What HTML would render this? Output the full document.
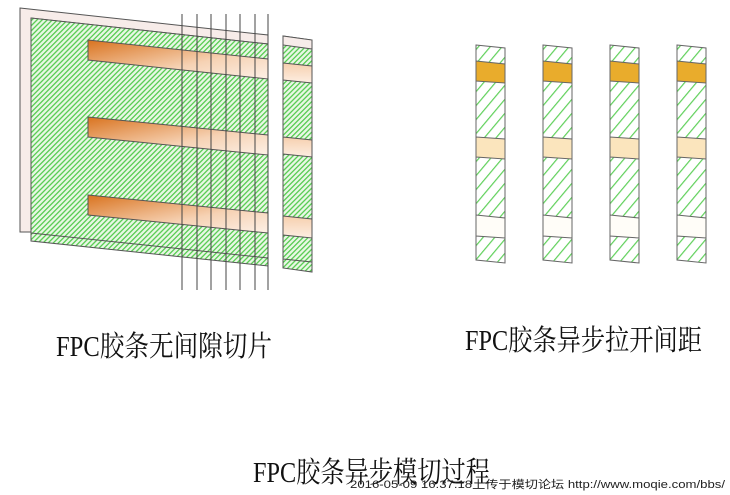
<!DOCTYPE html>
<html><head><meta charset="utf-8"><style>
html,body{margin:0;padding:0;background:#fff;width:730px;height:495px;overflow:hidden}
svg{display:block}
</style></head><body>
<svg width="730" height="495" viewBox="0 0 730 495" xmlns="http://www.w3.org/2000/svg">
<defs>
<pattern id="h1" width="3.6" height="3.6" patternUnits="userSpaceOnUse" patternTransform="rotate(45)">
<rect width="3.6" height="3.6" fill="#e8f7e4"/><rect width="1.3" height="3.6" fill="#58cc52"/>
</pattern>
<pattern id="h2" width="9" height="9" patternUnits="userSpaceOnUse" patternTransform="rotate(40)">
<rect width="9" height="9" fill="#fff"/><rect width="1.2" height="9" fill="#5fd05a"/>
</pattern>
<linearGradient id="og" x1="0" y1="0" x2="1" y2="1">
<stop offset="0" stop-color="#d9731f"/><stop offset="0.6" stop-color="#f6d2b4"/><stop offset="1" stop-color="#fdf0e6"/>
</linearGradient>
<linearGradient id="og2" x1="0" y1="0" x2="0" y2="1">
<stop offset="0" stop-color="#f6cfae"/><stop offset="1" stop-color="#fdeee2"/>
</linearGradient>
</defs>
<g stroke="#555" stroke-width="1">
<polygon points="20,8 268,35 268,44 31,18 31,232 20,232" fill="#f7ece9"/>
<polygon points="31,18 268,44 268,266 31,241" fill="url(#h1)"/>
<line x1="31" y1="233" x2="268" y2="258"/>
<polygon points="88,40 268,59 268,79 88,60" fill="url(#og)"/>
<polygon points="88,117 268,135 268,155 88,137" fill="url(#og)"/>
<polygon points="88,195 268,213 268,233 88,215" fill="url(#og)"/>
<g stroke="#444">
<line x1="182" y1="14" x2="182" y2="290"/><line x1="197" y1="14" x2="197" y2="290"/>
<line x1="211" y1="14" x2="211" y2="290"/><line x1="226" y1="14" x2="226" y2="290"/>
<line x1="240" y1="14" x2="240" y2="290"/><line x1="255" y1="14" x2="255" y2="290"/>
<line x1="268" y1="14" x2="268" y2="290"/>
</g>
<polygon points="283,36 312,40 312,272 283,268" fill="url(#h1)"/>
<polygon points="283,36 312,40 312,49 283,45" fill="#f7ece9"/>
<polygon points="283,63 312,66 312,83 283,80" fill="url(#og2)"/>
<polygon points="283,137 312,140 312,157 283,154" fill="url(#og2)"/>
<polygon points="283,216 312,219 312,238 283,235" fill="url(#og2)"/>
<line x1="283" y1="259" x2="312" y2="262"/>
</g>
<g stroke="#666" stroke-width="1">
<g id="s">
<polygon points="476,45 505,48 505,263 476,260" fill="url(#h2)"/>
<polygon points="476,61 505,64 505,83 476,81" fill="#e9ac2c"/>
<polygon points="476,137 505,139 505,159 476,157" fill="#fbe5bd"/>
<polygon points="476,215 505,218 505,238 476,236" fill="#fffdf8"/>
</g>
<use href="#s" x="67"/><use href="#s" x="134"/><use href="#s" x="201"/>
</g>
<g font-family="'Liberation Serif','Noto Serif CJK SC',serif" fill="#111">
<text x="56" y="356" font-size="29" textLength="216" lengthAdjust="spacingAndGlyphs">FPC胶条无间隙切片</text>
<text x="465" y="350" font-size="29" textLength="237" lengthAdjust="spacingAndGlyphs">FPC胶条异步拉开间距</text>
<text x="253" y="482" font-size="29" textLength="237" lengthAdjust="spacingAndGlyphs">FPC胶条异步模切过程</text>
</g>
<text x="350" y="488" font-family="'Liberation Sans','Noto Sans CJK SC',sans-serif" font-size="11" fill="#222" textLength="375" lengthAdjust="spacingAndGlyphs">2016-05-09 16:37:18上传于模切论坛 http://www.moqie.com/bbs/</text>
</svg>
</body></html>
